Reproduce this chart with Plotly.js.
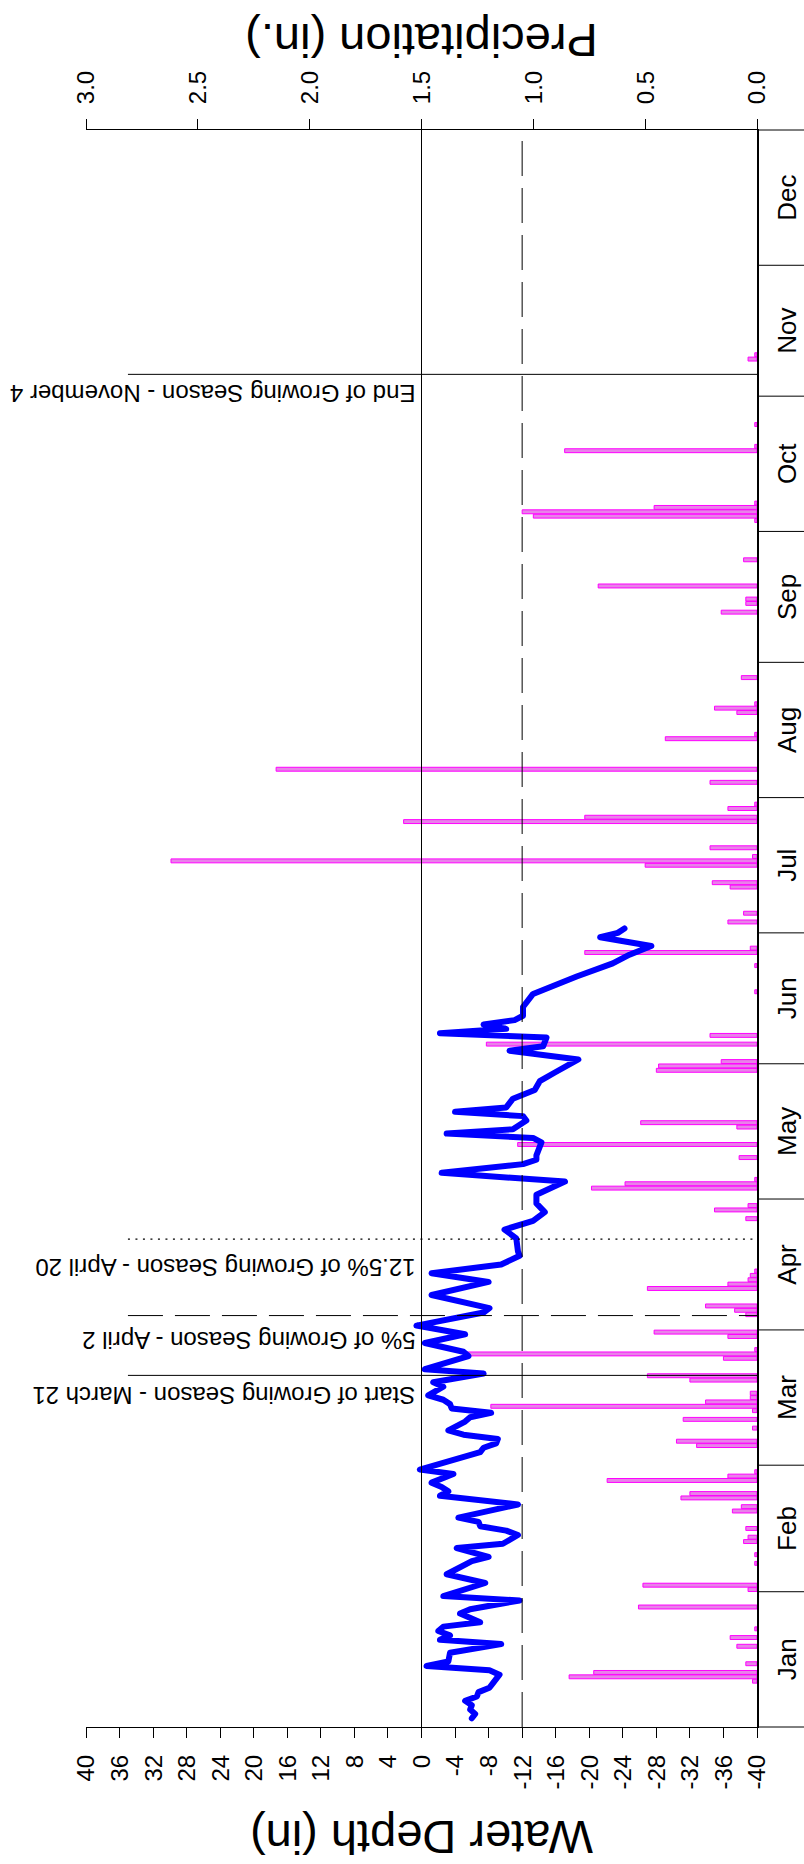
<!DOCTYPE html>
<html><head><meta charset="utf-8">
<script src="https://cdn.plot.ly/plotly-3.0.1.min.js"></script>
<style>
html,body{margin:0;padding:0;background:#fff;}
#wrap{position:relative;width:804px;height:1864px;overflow:hidden;background:#fff;}
#chart{position:absolute;left:0;top:0;width:1864px;height:804px;transform-origin:0 0;transform:translate(0px,1864px) rotate(-90deg);}
#chart path.js-line{stroke-linejoin:round !important;stroke-linecap:round !important;}
</style></head><body><div id="wrap"><div id="chart"></div></div>
<script>
// ---- data ----
const months = ['Jan','Feb','Mar','Apr','May','Jun','Jul','Aug','Sep','Oct','Nov','Dec'];
const monthStarts = ['2024-01-01','2024-02-01','2024-03-01','2024-04-01','2024-05-01','2024-06-01',
  '2024-07-01','2024-08-01','2024-09-01','2024-10-01','2024-11-01','2024-12-01','2025-01-01'];

const depthTickVals = [40,36,32,28,24,20,16,12,8,4,0,-4,-8,-12,-16,-20,-24,-28,-32,-36,-40];
const depthTickText = ['40','36','32','28','24','20','16','12','8','4','0','-4','-8','-12','-16','-20','-24','-28','-32','-36','-40'];
const precipTickVals = [0,0.5,1,1.5,2,2.5,3];
const precipTickText = ['0.0','0.5','1.0','1.5','2.0','2.5','3.0'];

const depthDates = ['2024-01-03','2024-01-04','2024-01-05','2024-01-06','2024-01-07','2024-01-08','2024-01-09','2024-01-10',
 '2024-01-11','2024-01-13','2024-01-14','2024-01-15','2024-01-16','2024-01-18','2024-01-20','2024-01-21','2024-01-22',
 '2024-01-23','2024-01-24','2024-01-25','2024-01-27','2024-01-28','2024-01-30','2024-01-31','2024-02-03','2024-02-05',
 '2024-02-08','2024-02-09','2024-02-11','2024-02-12','2024-02-14','2024-02-15','2024-02-16','2024-02-17','2024-02-18',
 '2024-02-21','2024-02-23','2024-02-24','2024-02-25','2024-02-26','2024-02-28','2024-02-29','2024-03-04','2024-03-05',
 '2024-03-06','2024-03-07','2024-03-08','2024-03-09','2024-03-11','2024-03-12','2024-03-13','2024-03-14','2024-03-15',
 '2024-03-16','2024-03-17','2024-03-19','2024-03-20','2024-03-22','2024-03-23','2024-03-26','2024-03-27','2024-03-29',
 '2024-03-31','2024-04-02','2024-04-05','2024-04-06','2024-04-09','2024-04-12','2024-04-14','2024-04-16','2024-04-18',
 '2024-04-19','2024-04-22','2024-04-24','2024-04-26','2024-04-28','2024-04-30','2024-05-02','2024-05-05','2024-05-07',
 '2024-05-09','2024-05-10','2024-05-11','2024-05-14','2024-05-15','2024-05-16','2024-05-17','2024-05-19','2024-05-20',
 '2024-05-21','2024-05-22','2024-05-24','2024-05-26','2024-05-28','2024-05-30','2024-06-02','2024-06-04','2024-06-05',
 '2024-06-07','2024-06-08','2024-06-09','2024-06-10','2024-06-11','2024-06-12','2024-06-14','2024-06-17','2024-06-21',
 '2024-06-22','2024-06-24','2024-06-26','2024-06-28','2024-06-30','2024-07-01','2024-07-02'];
const depthValues = [-6.0,-6.4,-5.8,-6.0,-5.2,-6.6,-6.8,-8.1,
 -8.5,-9.3,-8.1,-0.6,-3.2,-3.4,-9.5,-2.2,-3.4,
 -2.0,-2.6,-7.0,-4.6,-5.8,-11.7,-2.6,-7.6,-3.0,
 -6.0,-8.0,-4.2,-9.7,-11.5,-10.1,-7.0,-6.8,-4.4,
 -11.5,-2.2,-3.2,-2.4,-1.2,-3.8,0.2,-7.0,-7.4,
 -8.9,-9.1,-5.0,-3.2,-5.2,-5.8,-8.3,-3.6,-3.4,
 -2.6,-0.8,-2.6,-1.4,-7.4,-0.4,-5.6,-5.0,-0.4,
 -5.2,0.6,-7.4,-8.1,-1.2,-8.0,-1.2,-9.5,-11.7,
 -11.5,-11.3,-9.9,-13.3,-14.7,-13.7,-13.7,-17.1,-2.4,
 -12.1,-13.7,-13.7,-14.3,-13.3,-3.0,-10.9,-12.5,-12.1,
 -4.0,-10.1,-10.9,-13.5,-14.1,-15.9,-18.7,-10.5,-14.5,
 -14.9,-2.2,-10.1,-7.4,-11.1,-12.1,-12.1,-13.3,-18.5,
 -20.1,-22.8,-24.8,-27.4,-21.3,-23.4,-24.2];

const rainDates = ['2024-01-11','2024-01-12','2024-01-13','2024-01-15','2024-01-19','2024-01-21','2024-01-23','2024-01-28',
 '2024-02-01','2024-02-02','2024-02-07','2024-02-09','2024-02-12','2024-02-13','2024-02-15','2024-02-19','2024-02-20',
 '2024-02-22','2024-02-23','2024-02-26','2024-02-27','2024-02-28','2024-03-05','2024-03-06','2024-03-09','2024-03-11',
 '2024-03-13','2024-03-14','2024-03-15','2024-03-16','2024-03-17','2024-03-20','2024-03-21','2024-03-25','2024-03-26',
 '2024-03-27','2024-03-30','2024-03-31','2024-04-04','2024-04-05','2024-04-06','2024-04-10','2024-04-11','2024-04-12',
 '2024-04-13','2024-04-14','2024-04-26','2024-04-28','2024-04-29','2024-05-03','2024-05-04','2024-05-05','2024-05-10',
 '2024-05-13','2024-05-17','2024-05-18','2024-05-30','2024-05-31','2024-06-01','2024-06-05','2024-06-07','2024-06-17',
 '2024-06-23','2024-06-26','2024-06-27','2024-07-03','2024-07-05','2024-07-11','2024-07-12','2024-07-16','2024-07-17',
 '2024-07-18','2024-07-20','2024-07-26','2024-07-27','2024-07-29','2024-07-30','2024-08-04','2024-08-07','2024-08-14',
 '2024-08-15','2024-08-20','2024-08-21','2024-08-22','2024-08-28','2024-09-12','2024-09-14','2024-09-15','2024-09-18',
 '2024-09-24','2024-10-03','2024-10-04','2024-10-05','2024-10-06','2024-10-07','2024-10-19','2024-10-20','2024-10-25',
 '2024-11-09','2024-11-10'];
const rainValues = [0.02,0.84,0.73,0.05,0.09,0.12,0.01,0.53,
 0.04,0.51,0.01,0.01,0.06,0.04,0.05,0.11,0.07,
 0.34,0.30,0.67,0.13,0.01,0.27,0.36,0.02,0.33,
 0.02,1.19,0.23,0.03,0.03,0.30,0.49,0.15,1.31,
 0.01,0.13,0.46,0.05,0.10,0.23,0.49,0.13,0.04,
 0.03,0.01,0.05,0.19,0.04,0.74,0.59,0.01,0.08,
 1.07,0.09,0.52,0.45,0.44,0.16,1.21,0.21,0.01,
 0.01,0.77,0.03,0.13,0.06,0.12,0.20,0.50,2.62,
 0.02,0.21,1.58,0.77,0.13,0.01,0.21,2.15,0.41,
 0.01,0.09,0.19,0.01,0.07,0.16,0.05,0.05,0.71,
 0.06,0.01,1.00,1.05,0.46,0.01,0.86,0.01,0.01,
 0.04,0.01];

// ---- derived helpers ----
const DAY = 86400000;
const monthMids = months.map((m, i) => (Date.parse(monthStarts[i]) + Date.parse(monthStarts[i + 1])) / 2);
const FONT = '"Liberation Sans", Arial, Helvetica, sans-serif';

const boundaryShapes = monthStarts.map((d, i) => {
  const edge = (i === 0 || i === monthStarts.length - 1);
  return {type: 'line', xref: edge ? 'paper' : 'x', x0: edge ? (i === 0 ? 0 : 1) : d, x1: edge ? (i === 0 ? 0 : 1) : d,
          yref: 'paper', y0: 0, y1: -0.1, line: {color: 'black', width: 1}};
});

const shapes = boundaryShapes.concat([
  {type: 'line', xref: 'paper', x0: 0, x1: 1, yref: 'y2', y0: 0, y1: 0, line: {color: 'black', width: 1}},
  {type: 'line', xref: 'paper', x0: 0, x1: 1, yref: 'y2', y0: -12, y1: -12, line: {color: 'black', width: 1, dash: '35px,12px'}},
  {type: 'line', xref: 'x', x0: '2024-03-21 14:00', x1: '2024-03-21 14:00', yref: 'y2', y0: 35, y1: -40, line: {color: 'black', width: 1}},
  {type: 'line', xref: 'x', x0: '2024-04-04 07:00', x1: '2024-04-04 07:00', yref: 'y2', y0: 35, y1: -40, line: {color: 'black', width: 1, dash: '35px,12px'}},
  {type: 'line', xref: 'x', x0: '2024-04-21 19:00', x1: '2024-04-21 19:00', yref: 'y2', y0: 35, y1: -40, line: {color: 'black', width: 1.2, dash: '2px,5.5px'}},
  {type: 'line', xref: 'x', x0: '2024-11-06 00:00', x1: '2024-11-06 00:00', yref: 'y2', y0: 35, y1: -40, line: {color: 'black', width: 1}}
]);

const annBase = {xref: 'x', yref: 'y2', y: 0.5, showarrow: false, textangle: -90, xanchor: 'right', yanchor: 'bottom',
                 font: {family: FONT, size: 24, color: 'black'}};
const annotations = [
  Object.assign({}, annBase, {x: '2024-03-20 12:00', text: 'Start of Growing Season - March 21'}),
  Object.assign({}, annBase, {x: '2024-04-02 02:00', text: '5% of Growing Season - April 2'}),
  Object.assign({}, annBase, {x: '2024-04-18 19:00', text: '12.5% of Growing Season - April 20'}),
  Object.assign({}, annBase, {x: '2024-11-05 02:00', text: 'End of Growing Season - November 4'})
];

const traces = [
  {type: 'bar', x: rainDates, y: rainValues, xaxis: 'x', yaxis: 'y',
   xperiod: DAY, xperiodalignment: 'middle', width: 0.9 * DAY,
   marker: {color: 'rgb(232,130,232)', line: {color: '#ff00ff', width: 1}}, hoverinfo: 'skip'},
  {type: 'scatter', mode: 'lines', x: depthDates, y: depthValues, xaxis: 'x', yaxis: 'y2',
   line: {color: '#0000ff', width: 6}, hoverinfo: 'skip'}
];

const layout = {
  width: 1864, height: 804,
  margin: {l: 137, r: 130, t: 86, b: 47, pad: 0},
  paper_bgcolor: 'white', plot_bgcolor: 'white',
  showlegend: false,
  font: {family: FONT, color: 'black'},
  bargap: 0,
  xaxis: {type: 'date', range: [monthStarts[0], monthStarts[monthStarts.length - 1]],
          showgrid: false, zeroline: false, showline: true, linecolor: 'black', linewidth: 1.5,
          tickvals: monthMids, ticktext: months, ticks: '', tickfont: {family: FONT, size: 26, color: 'black'},
          ticklabelstandoff: 6},
  yaxis: {range: [0, 3], side: 'right', showgrid: false, zeroline: false, showline: true, linecolor: 'black', linewidth: 1,
          tickvals: precipTickVals, ticktext: precipTickText, ticks: 'outside', ticklen: 10, tickcolor: 'black',
          tickfont: {family: FONT, size: 24, color: 'black'}, ticklabelstandoff: 10,
          title: {text: 'Precipitation (in.)', font: {family: FONT, size: 47, color: 'black'}, standoff: 14}},
  yaxis2: {range: [-40, 40], side: 'left', overlaying: 'y', showgrid: false, zeroline: false, showline: true,
           linecolor: 'black', linewidth: 1,
           tickvals: depthTickVals, ticktext: depthTickText, ticks: 'outside', ticklen: 10, tickcolor: 'black',
           tickfont: {family: FONT, size: 24, color: 'black'}, ticklabelstandoff: 12,
           title: {text: 'Water Depth (in)', font: {family: FONT, size: 47, color: 'black'}, standoff: 22}},
  shapes: shapes,
  annotations: annotations
};

Plotly.newPlot('chart', traces, layout, {staticPlot: true, displayModeBar: false});
</script></body></html>
